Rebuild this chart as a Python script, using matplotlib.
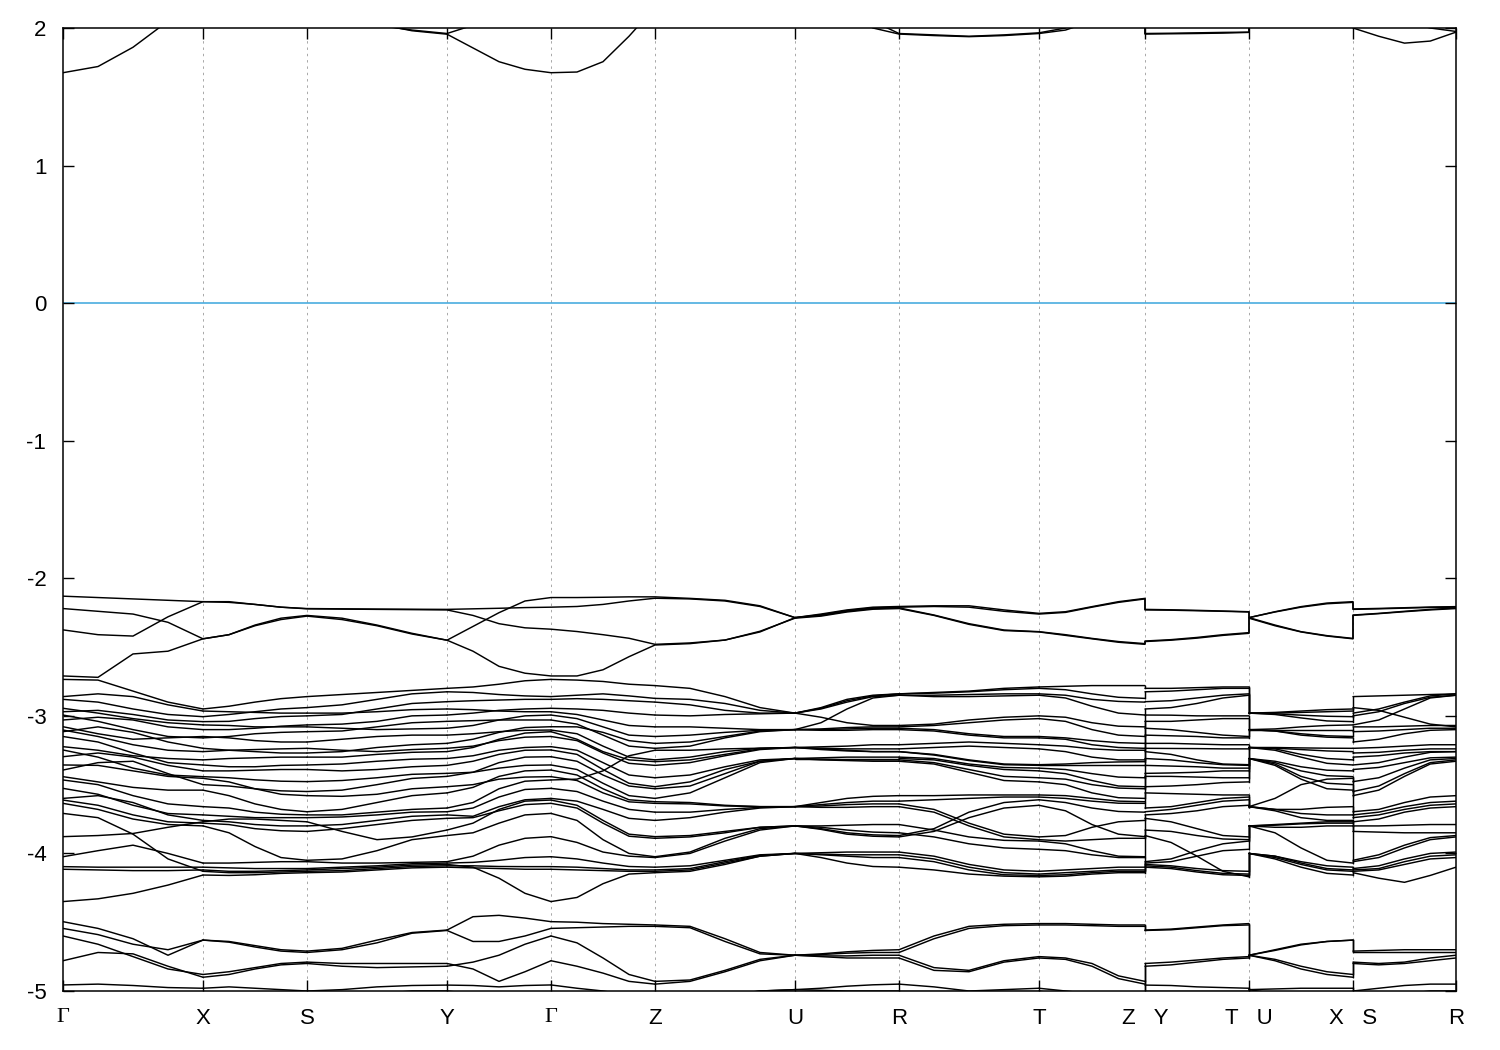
import numpy as np
import matplotlib
matplotlib.use("Agg")
import matplotlib.pyplot as plt

# ---------------- axis data ----------------
tick_pos = [0.0, 1.40, 2.44, 3.84, 4.88, 5.92, 7.32, 8.36, 9.76, 10.82, 11.86, 12.90, 13.93]
tick_labels = ["Γ", "X", "S", "Y", "Γ", "Z", "U", "R", "T", "Z   Y", "T   U", "X   S", "R"]
y_ticks = [2, 1, 0, -1, -2, -3, -4, -5]

# ---------------- conduction / upper valence bands (eV), quarter points of each segment ----
# segment order: G-X, X-S, S-Y, Y-G, G-Z, Z-U, U-R, R-T, T-Z | Y-T | U-X | S-R
cb1 = [1.675, 1.72, 1.86, 2.05, 2.3, 2.3, 2.3, 2.25, 2.2, 2.15, 2.03, 1.98, 1.955,
       1.855, 1.755, 1.70, 1.675, 1.68, 1.755, 1.94, 2.15, 2.3, 2.4, 2.4, 2.3,
       2.2, 2.1, 2.0, 1.956, 1.945, 1.937, 1.945, 1.96, 1.985, 2.05, 2.1, 2.15,
       1.956, 1.958, 1.96, 1.963, 1.968, 2.3, 2.35, 2.35, 2.3, 2.2,
       2.0, 1.94, 1.89, 1.905, 1.97]
cb2 = [2.5, 2.5, 2.5, 2.5, 2.5, 2.5, 2.5, 2.5, 2.4, 2.2, 2.02, 1.985, 1.96,
       2.02, 2.15, 2.3, 2.35, 2.35, 2.4, 2.5, 2.5, 2.5, 2.5, 2.5, 2.4,
       2.3, 2.2, 2.05, 1.96, 1.95, 1.94, 1.95, 1.965, 2.0, 2.1, 2.2, 2.25,
       1.96, 1.962, 1.965, 1.968, 1.97, 2.4, 2.45, 2.45, 2.4, 2.3,
       2.2, 2.1, 2.05, 2.0, 1.975]

vb1 = [-2.13, -2.14, -2.15, -2.16, -2.17, -2.17, -2.19, -2.21, -2.22,
       -2.222, -2.224, -2.225, -2.226, -2.222, -2.218, -2.213, -2.21,
       -2.205, -2.19, -2.165, -2.145, -2.15, -2.165, -2.205, -2.286,
       -2.26, -2.23, -2.21, -2.205, -2.20, -2.20, -2.23, -2.255,
       -2.243, -2.206, -2.17, -2.146,
       -2.226, -2.229, -2.233, -2.238, -2.243,
       -2.286, -2.243, -2.206, -2.18, -2.17,
       -2.223, -2.219, -2.214, -2.209, -2.206]
vb2 = [-2.375, -2.41, -2.42, -2.28, -2.17, -2.175, -2.19, -2.21, -2.222,
       -2.224, -2.226, -2.228, -2.23, -2.27, -2.33, -2.36, -2.37,
       -2.387, -2.41, -2.436, -2.48, -2.47, -2.449, -2.39, -2.286,
       -2.27, -2.24, -2.22, -2.215, -2.267, -2.33, -2.376, -2.388,
       -2.41, -2.437, -2.46, -2.475,
       -2.456, -2.446, -2.43, -2.41, -2.395,
       -2.286, -2.34, -2.388, -2.417, -2.437,
       -2.267, -2.255, -2.24, -2.226, -2.216]
vb3 = [-2.22, -2.24, -2.26, -2.32, -2.44, -2.41, -2.34, -2.29, -2.27,
       -2.29, -2.34, -2.40, -2.45, -2.35, -2.25, -2.165, -2.14,
       -2.14, -2.138, -2.135, -2.135, -2.146, -2.16, -2.20, -2.286,
       -2.265, -2.235, -2.215, -2.21, -2.205, -2.21, -2.24, -2.26,
       -2.248, -2.21, -2.175, -2.15,
       -2.23, -2.232, -2.236, -2.24, -2.245,
       -2.286, -2.245, -2.21, -2.185, -2.175,
       -2.226, -2.222, -2.217, -2.212, -2.21]
vb4 = [-2.71, -2.72, -2.55, -2.53, -2.44, -2.41, -2.345, -2.30, -2.275,
       -2.30, -2.345, -2.405, -2.45, -2.53, -2.64, -2.69, -2.71,
       -2.71, -2.665, -2.57, -2.485, -2.475, -2.449, -2.385, -2.29,
       -2.275, -2.245, -2.225, -2.22, -2.27, -2.335, -2.38, -2.39,
       -2.415, -2.44, -2.465, -2.48,
       -2.46, -2.45, -2.435, -2.415, -2.40,
       -2.29, -2.345, -2.39, -2.42, -2.44,
       -2.27, -2.257, -2.243, -2.23, -2.22]

# ---------------- lower valence bands, per segment (5 points: start, 1/4, 1/2, 3/4, end) ----
seg_gx = [
    [-2.735, -2.74, -2.82, -2.90, -2.95], [-2.86, -2.84, -2.86, -2.92, -2.965],
    [-2.88, -2.90, -2.95, -2.99, -3.006], [-2.945, -2.98, -3.02, -3.05, -3.066],
    [-2.97, -2.96, -2.99, -3.03, -3.042], [-2.994, -3.04, -3.10, -3.15, -3.16],
    [-3.03, -3.01, -3.03, -3.08, -3.10], [-3.079, -3.13, -3.17, -3.16, -3.15],
    [-3.103, -3.15, -3.21, -3.25, -3.26], [-3.115, -3.08, -3.12, -3.19, -3.236],
    [-3.15, -3.19, -3.27, -3.34, -3.357], [-3.224, -3.25, -3.29, -3.31, -3.32],
    [-3.248, -3.30, -3.38, -3.43, -3.442], [-3.297, -3.27, -3.30, -3.36, -3.40],
    [-3.357, -3.36, -3.40, -3.44, -3.454], [-3.394, -3.34, -3.33, -3.42, -3.50],
    [-3.442, -3.48, -3.52, -3.54, -3.54], [-3.466, -3.50, -3.58, -3.64, -3.66],
    [-3.527, -3.57, -3.65, -3.71, -3.72], [-3.60, -3.58, -3.63, -3.72, -3.76],
    [-3.612, -3.65, -3.72, -3.77, -3.78], [-3.636, -3.68, -3.75, -3.79, -3.80],
    [-3.709, -3.74, -3.86, -4.04, -4.13], [-3.878, -3.87, -3.855, -3.81, -3.77],
    [-4.024, -3.98, -3.94, -4.00, -4.07], [-4.096, -4.10, -4.10, -4.10, -4.10],
    [-4.115, -4.12, -4.125, -4.125, -4.12], [-4.35, -4.33, -4.29, -4.23, -4.157],
    [-4.496, -4.545, -4.62, -4.74, -4.63], [-4.545, -4.59, -4.66, -4.70, -4.63],
    [-4.60, -4.66, -4.75, -4.84, -4.88], [-4.78, -4.72, -4.73, -4.82, -4.90],
    [-4.956, -4.95, -4.96, -4.975, -4.98], [-5.1, -5.08, -5.05, -5.07, -5.1],
]
seg_xs = [
    [-2.95, -2.93, -2.90, -2.875, -2.86], [-2.965, -2.97, -2.975, -2.98, -2.98],
    [-3.006, -2.99, -2.97, -2.95, -2.94], [-3.042, -3.04, -3.02, -3.005, -3.00],
    [-3.066, -3.07, -3.08, -3.08, -3.08], [-3.10, -3.10, -3.09, -3.075, -3.066],
    [-3.15, -3.16, -3.18, -3.19, -3.19], [-3.16, -3.15, -3.13, -3.12, -3.115],
    [-3.236, -3.25, -3.26, -3.27, -3.27], [-3.26, -3.25, -3.245, -3.24, -3.236],
    [-3.32, -3.31, -3.305, -3.30, -3.30], [-3.357, -3.37, -3.37, -3.36, -3.357],
    [-3.40, -3.40, -3.395, -3.39, -3.39], [-3.442, -3.45, -3.465, -3.475, -3.478],
    [-3.454, -3.48, -3.53, -3.57, -3.58], [-3.50, -3.51, -3.53, -3.545, -3.55],
    [-3.54, -3.58, -3.64, -3.68, -3.697], [-3.66, -3.67, -3.70, -3.715, -3.72],
    [-3.72, -3.73, -3.74, -3.74, -3.74], [-3.76, -3.77, -3.79, -3.80, -3.80],
    [-3.77, -3.75, -3.75, -3.76, -3.77], [-3.78, -3.79, -3.82, -3.835, -3.84],
    [-3.80, -3.85, -3.95, -4.03, -4.05], [-4.07, -4.07, -4.065, -4.06, -4.06],
    [-4.10, -4.105, -4.11, -4.11, -4.11], [-4.12, -4.13, -4.13, -4.125, -4.12],
    [-4.13, -4.14, -4.14, -4.135, -4.13], [-4.157, -4.16, -4.155, -4.145, -4.14],
    [-4.63, -4.64, -4.67, -4.70, -4.71], [-4.63, -4.645, -4.68, -4.71, -4.72],
    [-4.88, -4.86, -4.83, -4.80, -4.79], [-4.90, -4.88, -4.84, -4.81, -4.80],
    [-4.98, -4.97, -4.98, -4.99, -5.0], [-5.1, -5.08, -5.06, -5.05, -5.05],
]
seg_sy = [
    [-2.86, -2.845, -2.83, -2.815, -2.80], [-2.94, -2.92, -2.88, -2.84, -2.825],
    [-2.98, -2.98, -2.97, -2.955, -2.95], [-3.00, -2.99, -2.95, -2.91, -2.897],
    [-3.066, -3.06, -3.04, -3.00, -2.994], [-3.08, -3.09, -3.10, -3.095, -3.09],
    [-3.115, -3.11, -3.08, -3.05, -3.04], [-3.19, -3.17, -3.15, -3.14, -3.14],
    [-3.236, -3.25, -3.26, -3.245, -3.236], [-3.27, -3.26, -3.23, -3.21, -3.20],
    [-3.30, -3.30, -3.28, -3.265, -3.26], [-3.357, -3.35, -3.33, -3.315, -3.31],
    [-3.39, -3.40, -3.39, -3.37, -3.36], [-3.478, -3.47, -3.45, -3.425, -3.418],
    [-3.55, -3.54, -3.50, -3.455, -3.44], [-3.58, -3.585, -3.57, -3.53, -3.515],
    [-3.697, -3.68, -3.63, -3.58, -3.56], [-3.72, -3.72, -3.70, -3.68, -3.67],
    [-3.74, -3.735, -3.72, -3.70, -3.697], [-3.77, -3.84, -3.90, -3.88, -3.83],
    [-3.80, -3.79, -3.76, -3.73, -3.72], [-3.84, -3.82, -3.79, -3.76, -3.745],
    [-4.05, -4.04, -3.98, -3.90, -3.87], [-4.06, -4.07, -4.07, -4.065, -4.06],
    [-4.11, -4.10, -4.09, -4.075, -4.07], [-4.12, -4.11, -4.10, -4.085, -4.08],
    [-4.13, -4.125, -4.11, -4.095, -4.09], [-4.14, -4.135, -4.12, -4.105, -4.10],
    [-4.71, -4.69, -4.63, -4.575, -4.557], [-4.72, -4.70, -4.65, -4.58, -4.56],
    [-4.79, -4.80, -4.80, -4.80, -4.80], [-4.80, -4.82, -4.83, -4.825, -4.82],
    [-5.0, -4.99, -4.97, -4.96, -4.957], [-5.05, -5.04, -5.02, -5.0, -5.0],
]
seg_yg = [
    [-2.80, -2.79, -2.77, -2.745, -2.735], [-2.825, -2.83, -2.845, -2.855, -2.86],
    [-2.897, -2.89, -2.885, -2.88, -2.88], [-2.95, -2.955, -2.965, -2.97, -2.97],
    [-2.994, -2.98, -2.96, -2.95, -2.945], [-3.04, -3.035, -3.03, -3.03, -3.03],
    [-3.09, -3.07, -3.03, -3.00, -2.994], [-3.14, -3.13, -3.115, -3.105, -3.103],
    [-3.20, -3.17, -3.12, -3.085, -3.079], [-3.236, -3.22, -3.18, -3.155, -3.15],
    [-3.26, -3.23, -3.17, -3.125, -3.115], [-3.31, -3.29, -3.25, -3.23, -3.224],
    [-3.36, -3.33, -3.28, -3.25, -3.248], [-3.418, -3.41, -3.38, -3.36, -3.357],
    [-3.44, -3.41, -3.34, -3.30, -3.297], [-3.515, -3.50, -3.46, -3.445, -3.442],
    [-3.56, -3.52, -3.44, -3.40, -3.394], [-3.67, -3.63, -3.53, -3.475, -3.466],
    [-3.697, -3.67, -3.59, -3.535, -3.527], [-3.72, -3.73, -3.66, -3.61, -3.60],
    [-3.745, -3.74, -3.69, -3.645, -3.636], [-3.83, -3.78, -3.68, -3.62, -3.612],
    [-3.87, -3.85, -3.78, -3.72, -3.709], [-4.06, -4.02, -3.94, -3.89, -3.878],
    [-4.07, -4.065, -4.05, -4.03, -4.024], [-4.08, -4.10, -4.18, -4.29, -4.35],
    [-4.09, -4.09, -4.095, -4.096, -4.096], [-4.10, -4.105, -4.11, -4.115, -4.115],
    [-4.557, -4.46, -4.45, -4.47, -4.496], [-4.56, -4.64, -4.64, -4.60, -4.545],
    [-4.80, -4.84, -4.93, -4.86, -4.78], [-4.82, -4.79, -4.74, -4.66, -4.60],
    [-4.957, -4.96, -4.97, -4.96, -4.956], [-5.0, -5.02, -5.05, -5.08, -5.1],
]
seg_gz = [
    [-2.735, -2.74, -2.75, -2.77, -2.78], [-2.86, -2.85, -2.84, -2.855, -2.873],
    [-2.88, -2.875, -2.88, -2.89, -2.90], [-2.945, -2.95, -2.96, -2.98, -2.994],
    [-2.97, -2.99, -3.03, -3.07, -3.08], [-2.994, -3.02, -3.08, -3.14, -3.15],
    [-3.03, -3.06, -3.14, -3.22, -3.236], [-3.079, -3.08, -3.12, -3.18, -3.20],
    [-3.103, -3.13, -3.22, -3.30, -3.32], [-3.115, -3.17, -3.26, -3.32, -3.333],
    [-3.15, -3.18, -3.27, -3.345, -3.36], [-3.224, -3.25, -3.34, -3.43, -3.45],
    [-3.248, -3.28, -3.39, -3.49, -3.515], [-3.297, -3.33, -3.43, -3.51, -3.53],
    [-3.357, -3.39, -3.49, -3.58, -3.60], [-3.394, -3.43, -3.53, -3.61, -3.624],
    [-3.442, -3.47, -3.56, -3.625, -3.636], [-3.466, -3.46, -3.40, -3.29, -3.25],
    [-3.527, -3.55, -3.62, -3.68, -3.70], [-3.60, -3.62, -3.68, -3.745, -3.76],
    [-3.612, -3.65, -3.76, -3.86, -3.878], [-3.636, -3.67, -3.78, -3.875, -3.89],
    [-3.709, -3.76, -3.90, -4.00, -4.024], [-3.878, -3.92, -3.99, -4.02, -4.03],
    [-4.024, -4.04, -4.07, -4.095, -4.10], [-4.096, -4.10, -4.11, -4.12, -4.12],
    [-4.115, -4.12, -4.125, -4.13, -4.13], [-4.35, -4.32, -4.22, -4.15, -4.14],
    [-4.496, -4.50, -4.51, -4.515, -4.52], [-4.545, -4.54, -4.535, -4.53, -4.53],
    [-4.60, -4.65, -4.76, -4.88, -4.93], [-4.78, -4.82, -4.87, -4.93, -4.95],
    [-4.956, -4.98, -5.0, -5.03, -5.05], [-5.1, -5.1, -5.1, -5.1, -5.1],
]
seg_zu = [
    [-2.78, -2.80, -2.86, -2.94, -2.98], [-2.873, -2.88, -2.91, -2.96, -2.98],
    [-2.90, -2.92, -2.96, -2.98, -2.98], [-2.994, -3.00, -2.99, -2.985, -2.98],
    [-3.08, -3.08, -3.09, -3.10, -3.10], [-3.15, -3.14, -3.12, -3.105, -3.10],
    [-3.20, -3.19, -3.15, -3.11, -3.10], [-3.236, -3.22, -3.16, -3.115, -3.10],
    [-3.25, -3.25, -3.24, -3.235, -3.23], [-3.32, -3.30, -3.26, -3.235, -3.23],
    [-3.333, -3.32, -3.28, -3.24, -3.23], [-3.36, -3.34, -3.29, -3.245, -3.23],
    [-3.45, -3.43, -3.37, -3.32, -3.31], [-3.515, -3.48, -3.39, -3.33, -3.31],
    [-3.53, -3.51, -3.42, -3.33, -3.31], [-3.60, -3.56, -3.45, -3.34, -3.31],
    [-3.624, -3.63, -3.65, -3.66, -3.66], [-3.636, -3.64, -3.655, -3.66, -3.66],
    [-3.70, -3.70, -3.68, -3.665, -3.66], [-3.76, -3.74, -3.70, -3.67, -3.66],
    [-3.878, -3.87, -3.84, -3.81, -3.80], [-3.89, -3.88, -3.85, -3.81, -3.80],
    [-4.024, -3.99, -3.89, -3.82, -3.80], [-4.03, -4.00, -3.91, -3.83, -3.80],
    [-4.10, -4.09, -4.05, -4.01, -4.00], [-4.12, -4.11, -4.06, -4.015, -4.00],
    [-4.13, -4.12, -4.07, -4.02, -4.00], [-4.14, -4.13, -4.08, -4.02, -4.00],
    [-4.52, -4.53, -4.62, -4.72, -4.74], [-4.53, -4.54, -4.64, -4.73, -4.74],
    [-4.93, -4.92, -4.85, -4.77, -4.74], [-4.95, -4.93, -4.86, -4.78, -4.74],
    [-5.05, -5.05, -5.03, -5.0, -4.99], [-5.1, -5.08, -5.04, -5.0, -4.99],
]
seg_ur = [
    [-2.98, -2.94, -2.88, -2.85, -2.84], [-2.98, -2.945, -2.89, -2.855, -2.84],
    [-2.98, -2.95, -2.90, -2.86, -2.85], [-3.10, -3.05, -2.95, -2.87, -2.85],
    [-2.98, -3.01, -3.05, -3.07, -3.07], [-3.10, -3.095, -3.085, -3.08, -3.08],
    [-3.10, -3.10, -3.095, -3.09, -3.09], [-3.10, -3.105, -3.105, -3.10, -3.10],
    [-3.23, -3.225, -3.22, -3.21, -3.21], [-3.23, -3.235, -3.24, -3.24, -3.24],
    [-3.23, -3.24, -3.25, -3.26, -3.26], [-3.23, -3.245, -3.255, -3.26, -3.26],
    [-3.31, -3.305, -3.30, -3.30, -3.30], [-3.31, -3.31, -3.31, -3.31, -3.31],
    [-3.31, -3.315, -3.32, -3.32, -3.32], [-3.31, -3.32, -3.325, -3.33, -3.33],
    [-3.66, -3.63, -3.60, -3.585, -3.58], [-3.66, -3.645, -3.63, -3.62, -3.62],
    [-3.66, -3.655, -3.645, -3.64, -3.64], [-3.66, -3.665, -3.665, -3.66, -3.66],
    [-3.80, -3.80, -3.795, -3.79, -3.79], [-3.80, -3.81, -3.83, -3.845, -3.85],
    [-3.80, -3.82, -3.85, -3.865, -3.87], [-3.80, -3.825, -3.86, -3.875, -3.88],
    [-4.00, -3.995, -3.99, -3.99, -3.99], [-4.00, -4.005, -4.01, -4.01, -4.01],
    [-4.00, -4.01, -4.02, -4.03, -4.03], [-4.00, -4.03, -4.07, -4.095, -4.10],
    [-4.74, -4.73, -4.715, -4.705, -4.70], [-4.74, -4.735, -4.725, -4.72, -4.72],
    [-4.74, -4.745, -4.745, -4.74, -4.74], [-4.74, -4.75, -4.76, -4.76, -4.76],
    [-4.99, -4.98, -4.965, -4.955, -4.95], [-4.99, -4.995, -5.0, -5.0, -5.0],
]
seg_rt = [
    [-2.84, -2.83, -2.82, -2.80, -2.79], [-2.84, -2.835, -2.825, -2.81, -2.80],
    [-2.85, -2.85, -2.845, -2.84, -2.84], [-2.85, -2.86, -2.86, -2.855, -2.85],
    [-3.07, -3.06, -3.03, -3.01, -3.00], [-3.08, -3.07, -3.05, -3.03, -3.02],
    [-3.09, -3.10, -3.13, -3.15, -3.15], [-3.10, -3.11, -3.14, -3.16, -3.16],
    [-3.21, -3.20, -3.19, -3.20, -3.21], [-3.24, -3.23, -3.22, -3.23, -3.24],
    [-3.26, -3.28, -3.32, -3.35, -3.355], [-3.26, -3.285, -3.325, -3.355, -3.36],
    [-3.30, -3.31, -3.35, -3.375, -3.38], [-3.31, -3.32, -3.36, -3.39, -3.40],
    [-3.32, -3.34, -3.39, -3.44, -3.45], [-3.33, -3.35, -3.41, -3.47, -3.48],
    [-3.58, -3.58, -3.575, -3.575, -3.575], [-3.62, -3.61, -3.60, -3.59, -3.59],
    [-3.64, -3.68, -3.78, -3.86, -3.88], [-3.66, -3.70, -3.80, -3.88, -3.90],
    [-3.79, -3.83, -3.88, -3.905, -3.91], [-3.85, -3.88, -3.93, -3.96, -3.97],
    [-3.87, -3.82, -3.70, -3.63, -3.61], [-3.88, -3.84, -3.74, -3.67, -3.65],
    [-3.99, -4.02, -4.08, -4.12, -4.13], [-4.01, -4.04, -4.10, -4.14, -4.15],
    [-4.03, -4.06, -4.12, -4.155, -4.16], [-4.10, -4.12, -4.15, -4.165, -4.17],
    [-4.70, -4.60, -4.53, -4.515, -4.51], [-4.72, -4.62, -4.545, -4.525, -4.52],
    [-4.74, -4.83, -4.85, -4.78, -4.75], [-4.76, -4.85, -4.86, -4.79, -4.76],
    [-4.95, -4.97, -5.0, -4.99, -4.98], [-5.0, -5.0, -5.0, -5.0, -5.0],
]
seg_tz = [
    [-2.79, -2.785, -2.78, -2.78, -2.78], [-2.80, -2.81, -2.84, -2.865, -2.873],
    [-2.84, -2.85, -2.88, -2.895, -2.90], [-2.85, -2.87, -2.93, -2.98, -2.994],
    [-3.00, -3.01, -3.05, -3.075, -3.08], [-3.02, -3.04, -3.10, -3.14, -3.15],
    [-3.15, -3.16, -3.18, -3.195, -3.20], [-3.16, -3.17, -3.21, -3.23, -3.236],
    [-3.21, -3.22, -3.24, -3.25, -3.25], [-3.24, -3.26, -3.30, -3.32, -3.32],
    [-3.355, -3.35, -3.34, -3.335, -3.333], [-3.36, -3.36, -3.36, -3.36, -3.36],
    [-3.38, -3.39, -3.42, -3.445, -3.45], [-3.40, -3.42, -3.47, -3.51, -3.515],
    [-3.45, -3.46, -3.50, -3.525, -3.53], [-3.48, -3.50, -3.56, -3.595, -3.60],
    [-3.575, -3.58, -3.60, -3.62, -3.624], [-3.59, -3.60, -3.62, -3.635, -3.636],
    [-3.61, -3.63, -3.67, -3.695, -3.70], [-3.65, -3.69, -3.79, -3.86, -3.878],
    [-3.88, -3.87, -3.81, -3.77, -3.76], [-3.90, -3.91, -3.90, -3.89, -3.89],
    [-3.91, -3.93, -3.98, -4.02, -4.024], [-3.97, -3.98, -4.01, -4.03, -4.03],
    [-4.13, -4.12, -4.11, -4.10, -4.10], [-4.15, -4.14, -4.13, -4.12, -4.12],
    [-4.16, -4.155, -4.14, -4.13, -4.13], [-4.17, -4.165, -4.15, -4.14, -4.14],
    [-4.51, -4.51, -4.515, -4.52, -4.52], [-4.52, -4.52, -4.525, -4.53, -4.53],
    [-4.75, -4.76, -4.80, -4.89, -4.93], [-4.76, -4.77, -4.82, -4.91, -4.95],
    [-4.98, -5.0, -5.02, -5.04, -5.05], [-5.0, -5.03, -5.06, -5.09, -5.1],
]
seg_yt = [
    [-2.80, -2.80, -2.795, -2.79, -2.79], [-2.825, -2.82, -2.81, -2.80, -2.80],
    [-2.897, -2.89, -2.87, -2.85, -2.84], [-2.95, -2.94, -2.91, -2.87, -2.85],
    [-2.994, -2.995, -3.00, -3.00, -3.00], [-3.04, -3.04, -3.03, -3.02, -3.02],
    [-3.09, -3.10, -3.12, -3.14, -3.15], [-3.14, -3.145, -3.15, -3.16, -3.16],
    [-3.20, -3.20, -3.205, -3.21, -3.21], [-3.236, -3.237, -3.238, -3.24, -3.24],
    [-3.26, -3.28, -3.32, -3.35, -3.355], [-3.31, -3.32, -3.34, -3.355, -3.36],
    [-3.36, -3.365, -3.37, -3.38, -3.38], [-3.418, -3.415, -3.41, -3.40, -3.40],
    [-3.44, -3.44, -3.445, -3.45, -3.45], [-3.515, -3.51, -3.50, -3.485, -3.48],
    [-3.56, -3.565, -3.57, -3.575, -3.575], [-3.67, -3.66, -3.63, -3.60, -3.59],
    [-3.697, -3.68, -3.65, -3.62, -3.61], [-3.72, -3.71, -3.69, -3.66, -3.65],
    [-3.745, -3.77, -3.82, -3.87, -3.88], [-3.83, -3.84, -3.87, -3.895, -3.90],
    [-3.87, -3.92, -4.02, -4.13, -4.17], [-4.06, -4.04, -3.98, -3.93, -3.91],
    [-4.07, -4.06, -4.02, -3.98, -3.97], [-4.08, -4.09, -4.11, -4.125, -4.13],
    [-4.09, -4.10, -4.125, -4.145, -4.15], [-4.10, -4.11, -4.135, -4.155, -4.16],
    [-4.557, -4.55, -4.535, -4.52, -4.51], [-4.56, -4.555, -4.54, -4.525, -4.52],
    [-4.80, -4.79, -4.775, -4.76, -4.75], [-4.82, -4.81, -4.79, -4.77, -4.76],
    [-4.957, -4.96, -4.97, -4.975, -4.98], [-5.0, -5.0, -5.0, -5.0, -5.0],
]
seg_ux = [
    [-2.98, -2.975, -2.965, -2.955, -2.95], [-2.98, -2.98, -2.975, -2.97, -2.965],
    [-2.98, -2.985, -2.995, -3.003, -3.006], [-2.98, -2.99, -3.015, -3.037, -3.042],
    [-3.10, -3.095, -3.08, -3.07, -3.066], [-3.10, -3.10, -3.10, -3.10, -3.10],
    [-3.10, -3.11, -3.13, -3.145, -3.15], [-3.10, -3.11, -3.14, -3.155, -3.16],
    [-3.23, -3.23, -3.233, -3.235, -3.236], [-3.23, -3.235, -3.245, -3.255, -3.26],
    [-3.23, -3.24, -3.28, -3.31, -3.32], [-3.23, -3.25, -3.30, -3.345, -3.357],
    [-3.31, -3.33, -3.37, -3.395, -3.40], [-3.31, -3.34, -3.40, -3.435, -3.442],
    [-3.31, -3.36, -3.46, -3.53, -3.54], [-3.31, -3.35, -3.44, -3.49, -3.50],
    [-3.66, -3.60, -3.50, -3.46, -3.454], [-3.66, -3.68, -3.68, -3.665, -3.66],
    [-3.66, -3.68, -3.71, -3.72, -3.72], [-3.66, -3.69, -3.74, -3.76, -3.76],
    [-3.80, -3.79, -3.78, -3.77, -3.77], [-3.80, -3.795, -3.785, -3.78, -3.78],
    [-3.80, -3.81, -3.81, -3.80, -3.80], [-3.80, -3.85, -3.96, -4.05, -4.07],
    [-4.00, -4.02, -4.06, -4.09, -4.10], [-4.00, -4.02, -4.07, -4.11, -4.12],
    [-4.00, -4.03, -4.08, -4.12, -4.13], [-4.00, -4.04, -4.10, -4.145, -4.157],
    [-4.74, -4.70, -4.66, -4.64, -4.63], [-4.74, -4.705, -4.665, -4.64, -4.63],
    [-4.74, -4.77, -4.82, -4.86, -4.88], [-4.74, -4.78, -4.84, -4.88, -4.90],
    [-4.99, -4.985, -4.98, -4.98, -4.98], [-4.99, -5.02, -5.06, -5.09, -5.1],
]
seg_sr = [
    [-2.86, -2.855, -2.85, -2.845, -2.84], [-2.94, -2.96, -3.01, -3.06, -3.08],
    [-2.98, -2.95, -2.90, -2.855, -2.84], [-3.00, -2.97, -2.91, -2.865, -2.85],
    [-3.066, -3.03, -2.95, -2.87, -2.85], [-3.08, -3.08, -3.075, -3.07, -3.07],
    [-3.115, -3.11, -3.10, -3.09, -3.09], [-3.19, -3.17, -3.13, -3.105, -3.10],
    [-3.236, -3.23, -3.22, -3.21, -3.21], [-3.27, -3.265, -3.25, -3.24, -3.24],
    [-3.30, -3.29, -3.27, -3.26, -3.26], [-3.357, -3.34, -3.30, -3.265, -3.26],
    [-3.39, -3.375, -3.34, -3.305, -3.30], [-3.478, -3.45, -3.38, -3.32, -3.31],
    [-3.55, -3.51, -3.42, -3.34, -3.32], [-3.58, -3.54, -3.44, -3.35, -3.33],
    [-3.697, -3.68, -3.63, -3.59, -3.58], [-3.72, -3.70, -3.66, -3.63, -3.62],
    [-3.74, -3.72, -3.68, -3.65, -3.64], [-3.77, -3.75, -3.70, -3.67, -3.66],
    [-3.80, -3.80, -3.795, -3.79, -3.79], [-3.84, -3.845, -3.85, -3.85, -3.85],
    [-4.05, -4.01, -3.94, -3.885, -3.87], [-4.06, -4.03, -3.96, -3.90, -3.88],
    [-4.11, -4.09, -4.04, -4.00, -3.99], [-4.12, -4.11, -4.06, -4.02, -4.01],
    [-4.13, -4.12, -4.08, -4.04, -4.03], [-4.14, -4.18, -4.21, -4.16, -4.10],
    [-4.71, -4.705, -4.70, -4.70, -4.70], [-4.72, -4.72, -4.72, -4.72, -4.72],
    [-4.79, -4.80, -4.79, -4.76, -4.74], [-4.80, -4.81, -4.80, -4.78, -4.76],
    [-5.0, -4.98, -4.96, -4.95, -4.95], [-5.05, -5.04, -5.02, -5.0, -5.0],
]
lower_segments = [seg_gx, seg_xs, seg_sy, seg_yg, seg_gz, seg_zu, seg_ur,
                  seg_rt, seg_tz, seg_yt, seg_ux, seg_sr]


def path_grid():
    ks = []
    for i in range(9):
        seg = np.linspace(tick_pos[i], tick_pos[i + 1], 5)
        ks.extend(seg if i == 0 else seg[1:])
    for i in range(9, 12):
        ks.extend(np.linspace(tick_pos[i], tick_pos[i + 1], 5))
    return np.array(ks)


k_fine = path_grid()

fig = plt.figure(figsize=(15, 10.5), dpi=100)
ax = fig.add_axes([63 / 1500, 1 - 991 / 1050, (1456 - 63) / 1500, (991 - 28) / 1050])

LW = 1.05
for band in [cb1, cb2, vb1, vb2, vb3, vb4]:
    ax.plot(k_fine, band, color="black", lw=LW, solid_joinstyle="round")

for i, seg in enumerate(lower_segments):
    ks = np.linspace(tick_pos[i], tick_pos[i + 1], 5)
    for curve in seg:
        ax.plot(ks, curve, color="black", lw=LW, solid_joinstyle="round",
                solid_capstyle="round")

# vertical connections at the path discontinuities (band i to band i)
for left, right, xj in [(seg_tz, seg_yt, tick_pos[9]),
                        (seg_yt, seg_ux, tick_pos[10]),
                        (seg_ux, seg_sr, tick_pos[11])]:
    e_end = sorted(c[-1] for c in left)
    e_start = sorted(c[0] for c in right)
    for a, b in zip(e_end, e_start):
        ax.plot([xj, xj], [a, b], color="black", lw=LW)

ax.axhline(0, color="#3aa6dc", lw=1.1, zorder=1)
for x in tick_pos[1:-1]:
    ax.axvline(x, color="#a8a8a8", lw=0.7, ls=(0, (2.5, 4)), zorder=0)

ax.set_xlim(tick_pos[0], tick_pos[-1])
ax.set_ylim(-5, 2)
ax.set_yticks(y_ticks)
ax.set_yticklabels([str(v) for v in y_ticks])
ax.set_xticks(tick_pos)
ax.set_xticklabels(tick_labels)
ax.tick_params(axis="both", direction="in", length=8, width=1.0, top=True, right=True,
               labelsize=16, pad=12, colors="black")
for lab in ax.get_xticklabels():
    if lab.get_text() == "Γ":
        lab.set_fontfamily("Liberation Serif")
    else:
        lab.set_fontfamily("Liberation Sans")
for lab in ax.get_yticklabels():
    lab.set_fontfamily("Liberation Sans")
for s in ax.spines.values():
    s.set_linewidth(1.1)
    s.set_color("black")

fig.savefig("out.png", dpi=100)
